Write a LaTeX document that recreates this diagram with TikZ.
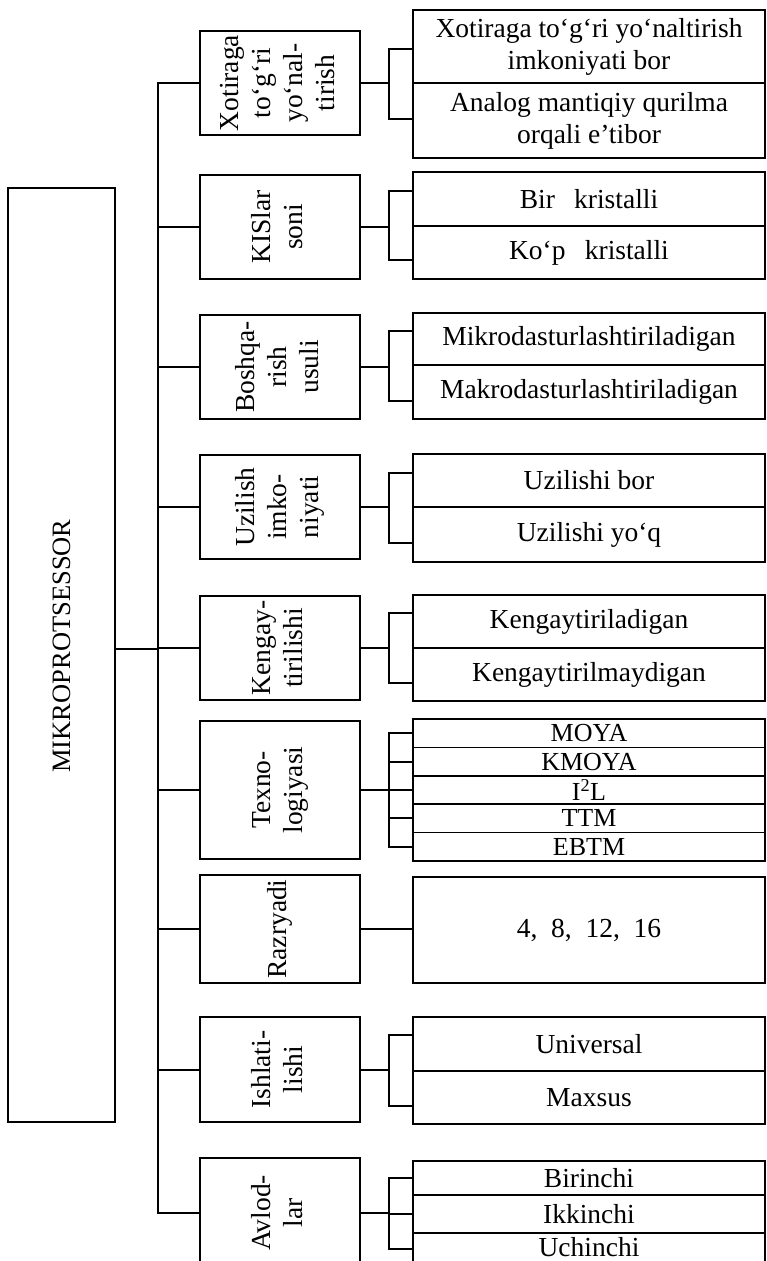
\documentclass[tikz,border=0pt]{standalone}
\usepackage{fontspec}
\usepackage{graphicx}
\setmainfont{Liberation Serif}
\newcommand\vlab[1]{\rotatebox{90}{\begin{tabular}{@{}c@{}}#1\end{tabular}}}
\newcommand\twobrk[5]{%
  \coordinate (#1u) at (389,#4);
  \coordinate (#1d) at (389,#5);
  \draw[conn] (#1.east) -- (#1.east -| #1u);
  \draw[conn] (#2.west |- #1u) -- (#1u) -- (#1d) -- (#3.west |- #1d);
}
\tikzset{
  box/.style={draw, line width=2.2pt, rectangle, inner sep=0pt, outer sep=0pt, align=center,
    font=\fontsize{27.5}{32}\selectfont},
  catbox/.style={box, minimum width=160pt},
  kid/.style={box, minimum width=352pt},
  thinkid/.style={box, line width=1.7pt, minimum width=352pt, font=\fontsize{26}{28}\selectfont},
  conn/.style={line width=2pt},
}
\begin{document}
\begin{tikzpicture}[x=1pt,y=-1pt]
\useasboundingbox (0,0) rectangle (766,1261);

% main box
\node[box, line width=2pt, minimum width=107pt, minimum height=934pt, font=\fontsize{26.5}{32}\selectfont] (main) at (61.5,655) {\raisebox{0pt}{\rotatebox{90}{\hspace{18pt}MIKROPROTSESSOR}}};

% category boxes
\node[catbox, minimum height=104pt] (c1) at (280,83) {\vlab{Xotiraga\\to‘g‘ri\\yo‘nal-\\tirish}};
\node[catbox, minimum height=104pt] (c2) at (280,227) {\vlab{KISlar\\soni}};
\node[catbox, minimum height=104pt] (c3) at (280,367) {\vlab{Boshqa-\\rish\\usuli}};
\node[catbox, minimum height=104pt] (c4) at (280,507) {\vlab{Uzilish\\imko-\\niyati}};
\node[catbox, minimum height=104pt] (c5) at (280,648) {\vlab{Kengay-\\tirilishi}};
\node[catbox, minimum height=138pt] (c6) at (280,790) {\vlab{Texno-\\logiyasi}};
\node[catbox, minimum height=108pt] (c7) at (280,929) {\vlab{Razryadi\\ }};
\node[catbox, minimum height=105pt] (c8) at (280,1069.5) {\vlab{Ishlati-\\lishi}};
\node[catbox, minimum height=110pt] (c9) at (280,1213) {\vlab{Avlod-\\lar}};

% bus
\coordinate (bb) at (157.5,0);
\coordinate (b0) at (157.5,649);
\draw[conn] (c1.west) -- (c1.west -| bb) -- (c9.west -| bb) -- (c9.west);
\foreach \c in {c2,c3,c4,c5,c6,c7,c8} \draw[conn] (\c.west) -- (\c.west -| bb);
\draw[conn] (main.east |- b0) -- (b0);

% children
\node[kid, minimum height=73pt] (k1a) at (589,46.5) {Xotiraga to‘g‘ri yo‘naltirish\\imkoniyati bor};
\node[kid, minimum height=75pt] (k1b) at (589,120.5) {Analog mantiqiy qurilma\\orqali e’tibor};
\twobrk{c1}{k1a}{k1b}{49}{119}

\node[kid, minimum height=54pt] (k2a) at (589,199) {Bir\hspace{0.7em}kristalli};
\node[kid, minimum height=53pt] (k2b) at (589,252.5) {Ko‘p\hspace{0.7em}kristalli};
\twobrk{c2}{k2a}{k2b}{191}{260}

\node[kid, minimum height=52pt] (k3a) at (589,339) {Mikrodasturlashtiriladigan};
\node[kid, minimum height=54pt] (k3b) at (589,392) {Makrodasturlashtiriladigan};
\twobrk{c3}{k3a}{k3b}{331}{401}

\node[kid, minimum height=53pt] (k4a) at (589,480.5) {Uzilishi bor};
\node[kid, minimum height=55pt] (k4b) at (589,534.5) {Uzilishi yo‘q};
\twobrk{c4}{k4a}{k4b}{473}{543}

\node[kid, minimum height=53pt] (k5a) at (589,621.5) {Kengaytiriladigan};
\node[kid, minimum height=53pt] (k5b) at (589,674.5) {Kengaytirilmaydigan};
\twobrk{c5}{k5a}{k5b}{613}{683}

% Texnologiyasi
\coordinate (bx) at (389,0);
\node[thinkid, minimum height=28.4pt] (t1) at (589,733.2) {MOYA};
\node[thinkid, minimum height=28.4pt] (t2) at (589,761.6) {KMOYA};
\node[thinkid, minimum height=28.4pt] (t3) at (589,790) {I\textsuperscript{2}L};
\node[thinkid, minimum height=28.4pt] (t4) at (589,818.4) {TTM};
\node[thinkid, minimum height=28.4pt] (t5) at (589,846.8) {EBTM};
\draw[conn] (c6.east) -- (c6.east -| bx);
\draw[conn] (t1.west) -- (t1.west -| bx) -- (t5.west -| bx) -- (t5.west);
\foreach \t in {t2,t3,t4} \draw[conn] (\t.west) -- (\t.west -| bx);

% Razryadi
\node[kid, minimum height=106pt] (r) at (589,930) {4,\enspace 8,\enspace 12,\enspace 16};
\draw[conn] (c7.east) -- (c7.east -| r.west);

% Ishlatilishi
\node[kid, minimum height=54pt] (k8a) at (589,1044) {Universal};
\node[kid, minimum height=53pt] (k8b) at (589,1097.5) {Maxsus};
\twobrk{c8}{k8a}{k8b}{1035}{1106}

% Avlodlar
\node[thinkid, minimum height=34pt, font=\fontsize{27.5}{30}\selectfont] (a1) at (589,1178) {Birinchi};
\node[thinkid, minimum height=38pt, font=\fontsize{27.5}{30}\selectfont] (a2) at (589,1214) {Ikkinchi};
\node[thinkid, minimum height=32pt, font=\fontsize{27.5}{30}\selectfont] (a3) at (589,1249) {\raisebox{4pt}{Uchinchi}};
\draw[conn] (c9.east) -- (c9.east -| bx);
\draw[conn] (a1.west) -- (a1.west -| bx) -- (a3.west -| bx) -- (a3.west);
\draw[conn] (a2.west) -- (a2.west -| bx);
\end{tikzpicture}
\end{document}
